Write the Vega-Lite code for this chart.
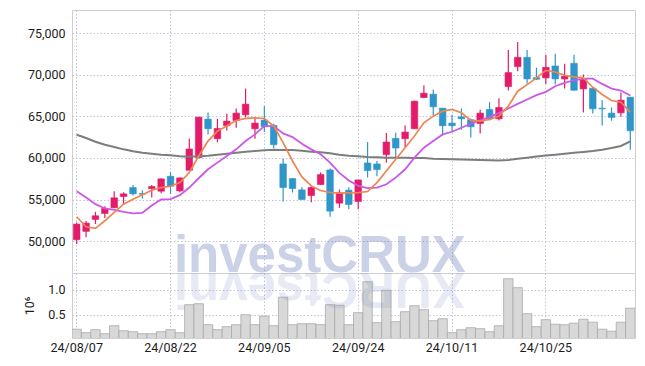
{
  "$schema": "https://vega.github.io/schema/vega-lite/v6.json",
  "padding": {"left": 23, "top": 9, "right": 10, "bottom": 5},
  "spacing": 0,
  "bounds": "flush",
  "background": "white",
  "config": {
    "numberFormat": ",",
    "view": {"stroke": "#cfcfcf", "strokeWidth": 1},
    "axis": {
      "labelFont": "Roboto", "labelFontSize": 12.5, "labelColor": "#1c1c1c",
      "titleFont": "Roboto", "titleFontSize": 12.5, "titleFontWeight": "normal", "titleColor": "#1c1c1c",
      "gridColor": "#c2c2da", "gridDash": [1.5, 2], "gridWidth": 1,
      "domain": false, "ticks": false, "tickSize": 0
    }
  },
  "datasets": {
    "ohlc": [
      {"d": "24/08/07", "o": 50160, "h": 52240, "l": 49640, "c": 52040, "v": 0.21, "m5": 52920, "m20": 56000, "m120": 62800},
      {"d": "24/08/08", "o": 51160, "h": 52400, "l": 50440, "c": 52160, "v": 0.14, "m5": 51720, "m20": 55240, "m120": 62400},
      {"d": "24/08/09", "o": 52600, "h": 53520, "l": 52040, "c": 53040, "v": 0.20, "m5": 51520, "m20": 54440, "m120": 61960},
      {"d": "24/08/12", "o": 53320, "h": 54200, "l": 52760, "c": 53920, "v": 0.12, "m5": 52440, "m20": 53920, "m120": 61600},
      {"d": "24/08/13", "o": 54000, "h": 56000, "l": 54000, "c": 55200, "v": 0.28, "m5": 53440, "m20": 53760, "m120": 61320},
      {"d": "24/08/14", "o": 55360, "h": 55880, "l": 54440, "c": 55680, "v": 0.18, "m5": 54440, "m20": 53520, "m120": 61040},
      {"d": "24/08/16", "o": 56440, "h": 56760, "l": 55480, "c": 55680, "v": 0.16, "m5": 55040, "m20": 53320, "m120": 60800},
      {"d": "24/08/19", "o": 55720, "h": 56120, "l": 55120, "c": 55640, "v": 0.12, "m5": 55560, "m20": 53400, "m120": 60640},
      {"d": "24/08/20", "o": 56320, "h": 56760, "l": 55240, "c": 56560, "v": 0.12, "m5": 56120, "m20": 54280, "m120": 60520},
      {"d": "24/08/21", "o": 56000, "h": 57560, "l": 55760, "c": 57480, "v": 0.16, "m5": 56440, "m20": 55000, "m120": 60400},
      {"d": "24/08/22", "o": 57800, "h": 58280, "l": 55640, "c": 56600, "v": 0.20, "m5": 56600, "m20": 55040, "m120": 60320},
      {"d": "24/08/23", "o": 56040, "h": 57640, "l": 55880, "c": 57600, "v": 0.14, "m5": 57040, "m20": 55520, "m120": 60200},
      {"d": "24/08/26", "o": 58520, "h": 62360, "l": 58520, "c": 61080, "v": 0.70, "m5": 58240, "m20": 56440, "m120": 60160},
      {"d": "24/08/27", "o": 60040, "h": 64920, "l": 59960, "c": 64920, "v": 0.72, "m5": 60240, "m20": 57560, "m120": 60200},
      {"d": "24/08/28", "o": 64680, "h": 65480, "l": 62840, "c": 63520, "v": 0.30, "m5": 62040, "m20": 58640, "m120": 60280},
      {"d": "24/08/29", "o": 62320, "h": 64720, "l": 61880, "c": 63560, "v": 0.20, "m5": 63240, "m20": 59440, "m120": 60400},
      {"d": "24/08/30", "o": 63880, "h": 65320, "l": 63320, "c": 64440, "v": 0.26, "m5": 63840, "m20": 60240, "m120": 60520},
      {"d": "24/09/02", "o": 64520, "h": 65960, "l": 63640, "c": 65400, "v": 0.30, "m5": 64520, "m20": 61040, "m120": 60640},
      {"d": "24/09/03", "o": 65200, "h": 68360, "l": 64920, "c": 66480, "v": 0.50, "m5": 64760, "m20": 62040, "m120": 60760},
      {"d": "24/09/04", "o": 63520, "h": 64920, "l": 62320, "c": 64200, "v": 0.30, "m5": 64840, "m20": 62840, "m120": 60840},
      {"d": "24/09/05", "o": 64560, "h": 66240, "l": 63120, "c": 63760, "v": 0.47, "m5": 64760, "m20": 63840, "m120": 60920},
      {"d": "24/09/06", "o": 63920, "h": 64120, "l": 61160, "c": 61600, "v": 0.28, "m5": 63840, "m20": 63840, "m120": 61000},
      {"d": "24/09/09", "o": 59280, "h": 59920, "l": 54760, "c": 56440, "v": 0.85, "m5": 61840, "m20": 62960, "m120": 60960},
      {"d": "24/09/10", "o": 57520, "h": 57600, "l": 55840, "c": 56320, "v": 0.30, "m5": 59640, "m20": 62520, "m120": 60960},
      {"d": "24/09/11", "o": 56160, "h": 56520, "l": 54960, "c": 55000, "v": 0.32, "m5": 57720, "m20": 61720, "m120": 60880},
      {"d": "24/09/12", "o": 55480, "h": 56600, "l": 54680, "c": 56440, "v": 0.32, "m5": 56640, "m20": 61040, "m120": 60760},
      {"d": "24/09/13", "o": 56800, "h": 58240, "l": 56760, "c": 58000, "v": 0.30, "m5": 56080, "m20": 60440, "m120": 60680},
      {"d": "24/09/19", "o": 58560, "h": 58720, "l": 52920, "c": 53600, "v": 0.70, "m5": 55840, "m20": 59440, "m120": 60560},
      {"d": "24/09/20", "o": 54560, "h": 56200, "l": 54000, "c": 55800, "v": 0.69, "m5": 55760, "m20": 58200, "m120": 60400},
      {"d": "24/09/23", "o": 56120, "h": 56480, "l": 53840, "c": 54400, "v": 0.30, "m5": 55800, "m20": 57280, "m120": 60280},
      {"d": "24/09/24", "o": 54760, "h": 57360, "l": 53840, "c": 57360, "v": 0.54, "m5": 55840, "m20": 56640, "m120": 60200},
      {"d": "24/09/25", "o": 59400, "h": 61920, "l": 57640, "c": 58480, "v": 1.16, "m5": 55960, "m20": 56360, "m120": 60120},
      {"d": "24/09/26", "o": 59280, "h": 59640, "l": 57800, "c": 58600, "v": 0.34, "m5": 57040, "m20": 56440, "m120": 60080},
      {"d": "24/09/27", "o": 60400, "h": 63000, "l": 59440, "c": 61920, "v": 0.99, "m5": 58440, "m20": 56840, "m120": 60040},
      {"d": "24/09/30", "o": 62360, "h": 63040, "l": 60000, "c": 61200, "v": 0.36, "m5": 59840, "m20": 57640, "m120": 60040},
      {"d": "24/10/02", "o": 62320, "h": 63920, "l": 61320, "c": 63120, "v": 0.56, "m5": 61240, "m20": 58640, "m120": 60040},
      {"d": "24/10/04", "o": 63520, "h": 66920, "l": 63520, "c": 66840, "v": 0.68, "m5": 62640, "m20": 60040, "m120": 60000},
      {"d": "24/10/07", "o": 67280, "h": 68720, "l": 67200, "c": 67800, "v": 0.60, "m5": 64240, "m20": 61240, "m120": 60000},
      {"d": "24/10/08", "o": 67680, "h": 68240, "l": 65120, "c": 66160, "v": 0.38, "m5": 65040, "m20": 62040, "m120": 59920},
      {"d": "24/10/10", "o": 66000, "h": 66000, "l": 62720, "c": 63880, "v": 0.42, "m5": 65640, "m20": 62840, "m120": 59880},
      {"d": "24/10/11", "o": 64200, "h": 65200, "l": 63120, "c": 63880, "v": 0.14, "m5": 65840, "m20": 63160, "m120": 59860},
      {"d": "24/10/14", "o": 64960, "h": 65960, "l": 63400, "c": 64720, "v": 0.20, "m5": 65440, "m20": 63640, "m120": 59820},
      {"d": "24/10/15", "o": 64600, "h": 64760, "l": 62480, "c": 63760, "v": 0.24, "m5": 64520, "m20": 64120, "m120": 59780},
      {"d": "24/10/16", "o": 64160, "h": 65800, "l": 62960, "c": 65400, "v": 0.22, "m5": 64440, "m20": 64520, "m120": 59760},
      {"d": "24/10/17", "o": 65840, "h": 66720, "l": 64520, "c": 64720, "v": 0.16, "m5": 64640, "m20": 64920, "m120": 59720},
      {"d": "24/10/18", "o": 64720, "h": 67200, "l": 64520, "c": 66080, "v": 0.28, "m5": 65040, "m20": 65440, "m120": 59700},
      {"d": "24/10/21", "o": 68600, "h": 73000, "l": 68120, "c": 70280, "v": 1.22, "m5": 66240, "m20": 65960, "m120": 59760},
      {"d": "24/10/22", "o": 71000, "h": 73960, "l": 70440, "c": 72120, "v": 1.04, "m5": 68040, "m20": 66520, "m120": 59900},
      {"d": "24/10/23", "o": 72120, "h": 73000, "l": 68960, "c": 69520, "v": 0.52, "m5": 68840, "m20": 67040, "m120": 60040},
      {"d": "24/10/24", "o": 69680, "h": 70880, "l": 69400, "c": 69480, "v": 0.26, "m5": 69640, "m20": 67560, "m120": 60180},
      {"d": "24/10/25", "o": 69640, "h": 72440, "l": 68920, "c": 70920, "v": 0.40, "m5": 70560, "m20": 67960, "m120": 60300},
      {"d": "24/10/28", "o": 71080, "h": 72560, "l": 68840, "c": 69520, "v": 0.31, "m5": 70360, "m20": 68640, "m120": 60400},
      {"d": "24/10/29", "o": 69520, "h": 71360, "l": 68360, "c": 69840, "v": 0.30, "m5": 69960, "m20": 69040, "m120": 60500},
      {"d": "24/10/30", "o": 71400, "h": 72440, "l": 68120, "c": 68160, "v": 0.33, "m5": 69760, "m20": 69360, "m120": 60620},
      {"d": "24/10/31", "o": 68320, "h": 70040, "l": 65480, "c": 69520, "v": 0.41, "m5": 69640, "m20": 69560, "m120": 60720},
      {"d": "24/11/01", "o": 68400, "h": 68400, "l": 65360, "c": 65920, "v": 0.35, "m5": 68520, "m20": 69560, "m120": 60840},
      {"d": "24/11/04", "o": 66000, "h": 66960, "l": 63920, "c": 65920, "v": 0.21, "m5": 67640, "m20": 68920, "m120": 61000},
      {"d": "24/11/05", "o": 65400, "h": 66080, "l": 64480, "c": 64880, "v": 0.17, "m5": 66920, "m20": 68360, "m120": 61200},
      {"d": "24/11/06", "o": 65440, "h": 67880, "l": 64960, "c": 66960, "v": 0.35, "m5": 66720, "m20": 68120, "m120": 61450},
      {"d": "24/11/07", "o": 67320, "h": 67320, "l": 61000, "c": 63280, "v": 0.63, "m5": 65520, "m20": 67520, "m120": 62000}
    ],
    "mark": [{"t": "investCRUX", "r": "XURCtsevni"}]
  },
  "vconcat": [
    {
      "width": 563,
      "height": 263,
      "data": {"name": "ohlc"},
      "encoding": {
        "x": {
          "field": "d", "type": "ordinal", "sort": null,
          "scale": {"paddingInner": 0, "paddingOuter": 0},
          "axis": {"values": ["24/08/07", "24/08/22", "24/09/05", "24/09/24", "24/10/11", "24/10/25"], "labels": false, "title": null, "grid": true, "minExtent": 0}
        }
      },
      "layer": [
        {
          "mark": {"type": "rule", "strokeWidth": 1.2},
          "encoding": {
            "y": {"field": "l", "type": "quantitative", "title": null, "scale": {"domain": [46150, 77820], "zero": false, "nice": false},
                  "axis": {"values": [50000, 55000, 60000, 65000, 70000, 75000], "format": ",", "labelExpr": "format(datum.value, ',')", "grid": true, "labelPadding": 7}},
            "y2": {"field": "h"},
            "color": {"condition": {"test": "datum.c >= datum.o", "value": "#e31b68"}, "value": "#2e96c8"}
          }
        },
        {
          "mark": {"type": "bar", "width": {"band": 0.7}, "strokeWidth": 0.6},
          "encoding": {
            "y": {"field": "o", "type": "quantitative", "title": null},
            "y2": {"field": "c"},
            "color": {"condition": {"test": "datum.c >= datum.o", "value": "#e31b68"}, "value": "#2e96c8"},
            "stroke": {"condition": {"test": "datum.c >= datum.o", "value": "#e31b68"}, "value": "#2e96c8"}
          }
        },
        {
          "mark": {"type": "line", "color": "#7d7d7d", "strokeWidth": 2},
          "encoding": {"y": {"field": "m120", "type": "quantitative", "title": null}}
        },
        {
          "mark": {"type": "line", "color": "#cb58e8", "strokeWidth": 1.8},
          "encoding": {"y": {"field": "m20", "type": "quantitative", "title": null}}
        },
        {
          "mark": {"type": "line", "color": "#ee8550", "strokeWidth": 1.7},
          "encoding": {"y": {"field": "m5", "type": "quantitative", "title": null}}
        },
        {
          "data": {"name": "mark"},
          "mark": {"type": "text", "font": "Liberation Sans", "fontWeight": "bold", "fontSize": 51, "align": "left", "baseline": "alphabetic", "dx": -6, "dy": -1, "color": "#7084bd", "opacity": 0.36, "clip": true},
          "encoding": {
            "x": {"datum": "24/08/23"},
            "y": {"datum": 46150, "type": "quantitative", "title": null,
                  "axis": {"values": [50000, 55000, 60000, 65000, 70000, 75000], "format": ",", "labelExpr": "format(datum.value, ',')", "grid": true, "labelPadding": 7}},
            "text": {"field": "t"}
          }
        }
      ]
    },
    {
      "width": 563,
      "height": 65,
      "data": {"name": "ohlc"},
      "encoding": {
        "x": {
          "field": "d", "type": "ordinal", "sort": null,
          "scale": {"paddingInner": 0, "paddingOuter": 0},
          "axis": {"values": ["24/08/07", "24/08/22", "24/09/05", "24/09/24", "24/10/11", "24/10/25"], "labelAngle": 0, "labelPadding": 3, "title": null, "grid": true}
        }
      },
      "layer": [
        {
          "mark": {"type": "bar", "width": {"band": 1}, "fill": "#d8d8d8", "stroke": "#a9a9a9", "strokeWidth": 0.8, "clip": true},
          "encoding": {
            "y": {"field": "v", "type": "quantitative", "title": "10⁶", "scale": {"domain": [0.034, 1.334], "zero": false, "nice": false},
                  "axis": {"values": [0.5, 1.0], "format": ".1f", "titlePadding": 11, "grid": true, "labelPadding": 7}}
          }
        },
        {
          "data": {"name": "mark"},
          "mark": {"type": "text", "font": "Liberation Sans", "fontWeight": "bold", "fontSize": 51, "align": "right", "baseline": "alphabetic", "angle": 180, "dx": 6, "dy": 1, "color": "#7084bd", "opacity": 0.16, "clip": true},
          "encoding": {
            "x": {"datum": "24/08/23"},
            "y": {"datum": 1.334},
            "text": {"field": "r"}
          }
        }
      ]
    }
  ]
}
